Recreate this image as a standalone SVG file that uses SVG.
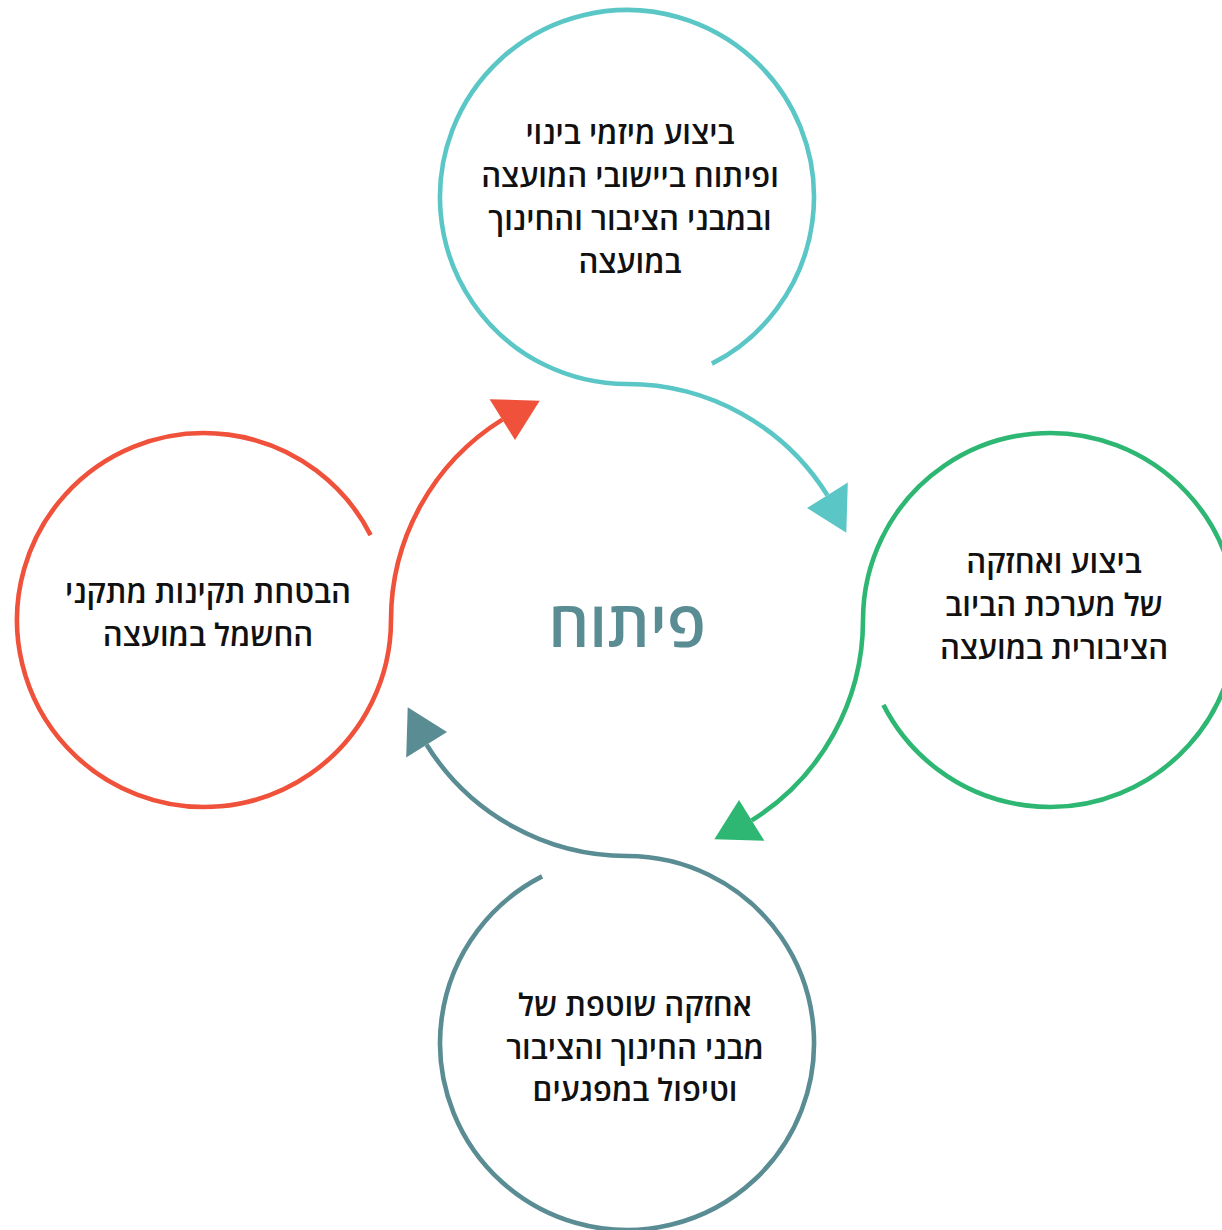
<svg xmlns="http://www.w3.org/2000/svg" width="1222" height="1230" viewBox="0 0 1222 1230">
<style>
.ring{fill:none;stroke-width:4.6;stroke-linecap:butt}
.lbl{font-family:"Open Sans","DejaVu Sans","Liberation Sans",sans-serif;font-size:31px;font-weight:600;fill:#111;text-anchor:middle}
.hub{font-family:"Open Sans","DejaVu Sans","Liberation Sans",sans-serif;font-size:64px;font-weight:600;fill:#5a8c94;text-anchor:middle}
</style>
<rect width="1222" height="1230" fill="#fff"/>
<g id="connectors">
<g id="conn-top" stroke="#5bc6c6" fill="#5bc6c6">
<path class="ring" d="M711.9 363.6 A187 187 0 1 0 627 384 A236 236 0 0 1 827.4 495.3"/>
<polygon points="846.3,532.7 847.8,482.6 807,508" stroke="none"/>
</g>
<g id="conn-right" stroke="#2db773" fill="#2db773">
<path class="ring" d="M883.4 704.9 A187 187 0 1 0 863 620 A236 236 0 0 1 751.7 820.4"/>
<polygon points="714.3,839.3 764.4,840.8 739,800" stroke="none"/>
</g>
<g id="conn-bottom" stroke="#5a8c94" fill="#5a8c94">
<path class="ring" d="M542.1 876.4 A187 187 0 1 0 627 856 A236 236 0 0 1 426.6 744.7"/>
<polygon points="407.7,707.3 406.2,757.4 447,732" stroke="none"/>
</g>
<g id="conn-left" stroke="#f0513a" fill="#f0513a">
<path class="ring" d="M370.6 535.1 A187 187 0 1 0 391 620 A236 236 0 0 1 502.3 419.6"/>
<polygon points="539.7,400.7 489.6,399.2 515,440" stroke="none"/>
</g>
</g>
<g id="node-top">
<text class="lbl" x="630" y="144">ביצוע מיזמי בינוי</text>
<text class="lbl" x="630" y="187">ופיתוח ביישובי המועצה</text>
<text class="lbl" x="630" y="230">ובמבני הציבור והחינוך</text>
<text class="lbl" x="630" y="273">במועצה</text>
</g>
<g id="node-right">
<text class="lbl" x="1054" y="573">ביצוע ואחזקה</text>
<text class="lbl" x="1054" y="616">של מערכת הביוב</text>
<text class="lbl" x="1054" y="659">הציבורית במועצה</text>
</g>
<g id="node-bottom">
<text class="lbl" x="635" y="1016">אחזקה שוטפת של</text>
<text class="lbl" x="635" y="1059">מבני החינוך והציבור</text>
<text class="lbl" x="635" y="1101">וטיפול במפגעים</text>
</g>
<g id="node-left">
<text class="lbl" x="208" y="603">הבטחת תקינות מתקני</text>
<text class="lbl" x="208" y="646">החשמל במועצה</text>
</g>
<g id="node-center">
<text class="hub" x="627" y="647">פיתוח</text>
</g>
</svg>
